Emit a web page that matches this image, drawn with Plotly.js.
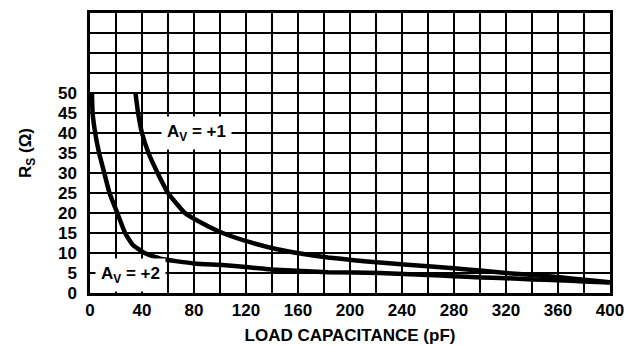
<!DOCTYPE html>
<html><head><meta charset="utf-8">
<script src="https://cdn.plot.ly/plotly-3.0.1.min.js"></script>
<style>html,body{margin:0;padding:0;background:#fff}</style>
</head><body>
<div id="chart" style="width:626px;height:345px"></div>
<script>
// Av = +2 curve
const av2X = [1.5, 2, 4, 7, 11, 15, 21, 27, 33, 42, 55, 80, 102, 120, 143, 183, 223, 260, 280, 300, 320, 340, 360, 380, 400];
const av2Y = [50, 45, 40, 35, 30, 25, 20, 15, 12, 10, 8.5, 7.4, 7.0, 6.5, 5.8, 5.2, 5.0, 4.5, 4.2, 3.9, 3.7, 3.4, 3.2, 2.9, 2.6];
// Av = +1 curve
const av1X = [35, 37, 40, 45, 52, 60, 73, 86, 102, 123, 143, 163, 183, 203, 223, 260, 280, 300, 320, 340, 360, 380, 400];
const av1Y = [50, 45, 40, 35, 30, 25, 20, 17.5, 15, 12.7, 11, 9.8, 8.9, 8.2, 7.6, 6.7, 6.2, 5.6, 5.0, 4.5, 4.0, 3.3, 2.7];
const xTickVals = [0, 40, 80, 120, 160, 200, 240, 280, 320, 360, 400];
const xTickText = ['0', '40', '80', '120', '160', '200', '240', '280', '320', '360', '400'];
const yTickVals = [0, 5, 10, 15, 20, 25, 30, 35, 40, 45, 50];
const yTickText = ['0', '5', '10', '15', '20', '25', '30', '35', '40', '45', '50'];
const labels = [
  {text: 'A<sub>V</sub> = +1', x: 82, y: 40},
  {text: 'A<sub>V</sub> = +2', x: 31, y: 4.4}
];

const lineStyle = {color: '#000', width: 4.5, shape: 'spline', smoothing: 0.4};
const traces = [
  {x: av2X, y: av2Y, mode: 'lines', line: lineStyle, hoverinfo: 'skip'},
  {x: av1X, y: av1Y, mode: 'lines', line: lineStyle, hoverinfo: 'skip'}
];
const font = {family: 'Arial, Liberation Sans, sans-serif', size: 17, color: '#000', weight: 700};
const grid = {showgrid: true, gridcolor: '#000', gridwidth: 2.7};
const layout = {
  width: 626, height: 345,
  margin: {l: 90, r: 16, t: 13, b: 52},
  paper_bgcolor: '#fff', plot_bgcolor: '#fff',
  showlegend: false,
  font: font,
  xaxis: Object.assign({
    range: [0, 400], tickmode: 'array', tickvals: xTickVals, ticktext: xTickText,
    minor: Object.assign({tickmode: 'linear', tick0: 0, dtick: 20, ticks: ''}, grid),
    zeroline: false, showline: true, linecolor: '#000', linewidth: 2.7, mirror: true,
    ticks: '', tickfont: font, ticklabelstandoff: 0,
    title: {text: 'LOAD CAPACITANCE (pF)', font: font, standoff: 12}
  }, grid),
  yaxis: Object.assign({
    range: [0, 70], tickmode: 'array', tickvals: yTickVals, ticktext: yTickText,
    minor: Object.assign({tickmode: 'linear', tick0: 0, dtick: 5, ticks: ''}, grid),
    zeroline: false, showline: true, linecolor: '#000', linewidth: 2.7, mirror: true,
    ticks: '', tickfont: font, ticklabelstandoff: 7,
    title: {text: 'R<sub>S</sub> (Ω)', font: font, standoff: 22}
  }, grid),
  annotations: labels.map(l => ({
    text: l.text, x: l.x, y: l.y, xref: 'x', yref: 'y', showarrow: false,
    font: font, bgcolor: '#fff', borderpad: 5
  }))
};
Plotly.newPlot('chart', traces, layout, {staticPlot: true, displayModeBar: false});
</script>
</body></html>
